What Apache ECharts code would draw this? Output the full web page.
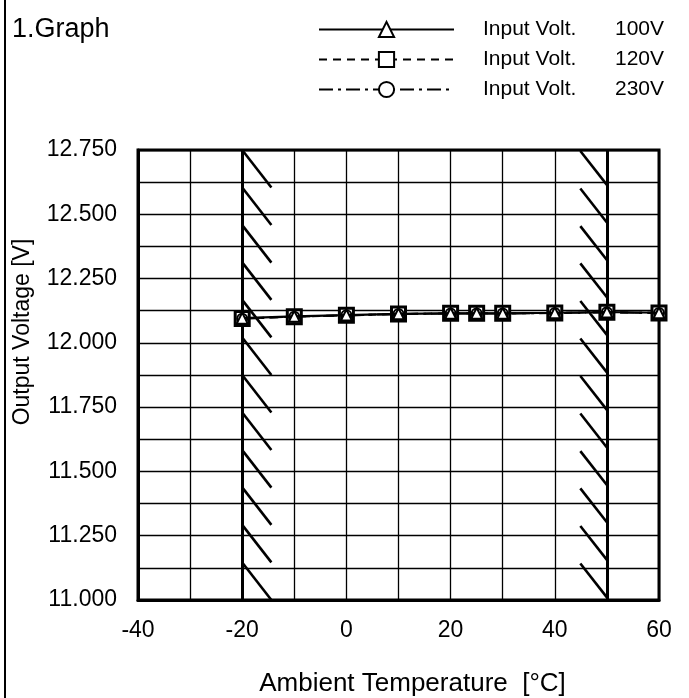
<!DOCTYPE html>
<html>
<head>
<meta charset="utf-8">
<script src="https://cdn.jsdelivr.net/npm/echarts@6/dist/echarts.min.js"></script>
<style>html,body{margin:0;padding:0;background:#fff;}#chart{width:689px;height:698px;}</style>
</head>
<body>
<div id="chart"></div>
<script>
// ---- data ----
const temps = [-20, -10, 0, 10, 20, 25, 30, 40, 50, 60];
const volt100 = [12.096, 12.103, 12.108, 12.113, 12.115, 12.115, 12.115, 12.117, 12.120, 12.117];
const volt120 = [12.095, 12.102, 12.107, 12.112, 12.115, 12.115, 12.115, 12.116, 12.119, 12.116];
const volt230 = [12.094, 12.102, 12.107, 12.112, 12.114, 12.114, 12.114, 12.116, 12.119, 12.116];
const seriesNames = ['Input Volt.   100V', 'Input Volt.   120V', 'Input Volt.   230V'];
const legendValues = ['100V', '120V', '230V'];
const xTickLabels = ['-40', '-20', '0', '20', '40', '60'];
const yTickLabels = ['11.000', '11.250', '11.500', '11.750', '12.000', '12.250', '12.500', '12.750'];
const limitTemps = [-20, 50];
const hatchStartsY = [12.750, 12.604, 12.458, 12.313, 12.167, 12.021, 11.875, 11.729, 11.583, 11.438, 11.292, 11.146];

const FONT = 'Liberation Sans';
const HATCH_DX = 5.6, HATCH_DY = 0.1458;

const hatchLines = [];
limitTemps.forEach(t => hatchLines.push({coords: [[t, 11.0], [t, 12.75]], lineStyle: {width: 3}}));
hatchStartsY.forEach(y => {
  hatchLines.push({coords: [[limitTemps[0], y], [limitTemps[0] + HATCH_DX, Math.max(11.0, y - HATCH_DY)]]});
  hatchLines.push({coords: [[limitTemps[1] - HATCH_DX + 0.5, y - 0.004], [limitTemps[1], Math.max(11.0, y - HATCH_DY + 0.01)]]});
});

const chart = echarts.init(document.getElementById('chart'), null, {renderer: 'canvas'});
const pair = arr => temps.map((t, i) => [t, arr[i]]);

chart.setOption({
  animation: false,
  backgroundColor: '#fff',
  textStyle: {fontFamily: FONT, color: '#000'},
  title: {
    text: '1.Graph', left: 7, top: 11,
    textStyle: {fontFamily: FONT, fontSize: 27, fontWeight: 'normal', color: '#000'}
  },
  graphic: [{
    type: 'line', shape: {x1: 5, y1: 0, x2: 5, y2: 698},
    style: {stroke: '#000', lineWidth: 2}
  }],
  legend: {
    orient: 'vertical', left: 313, top: 14,
    itemWidth: 135, itemHeight: 19, itemGap: 9,
    data: seriesNames,
    formatter: name => {
      const i = seriesNames.indexOf(name);
      return '{p|}{a|Input Volt.}{b|' + legendValues[i] + '}';
    },
    textStyle: {
      fontFamily: FONT, fontSize: 21, color: '#000',
      rich: {
        p: {width: 24, fontSize: 21, fontFamily: FONT, lineHeight: 22},
        a: {width: 132, fontSize: 21, fontFamily: FONT, color: '#000', lineHeight: 22},
        b: {fontSize: 21, fontFamily: FONT, color: '#000', lineHeight: 22}
      }
    }
  },
  grid: {left: 138, right: 30, top: 150, bottom: 98, show: true, borderColor: '#000', borderWidth: 3,
         containLabel: false, outerBoundsMode: 'none'},
  xAxis: {
    type: 'value', min: -40, max: 60, interval: 10,
    name: 'Ambient Temperature  [°C]', nameLocation: 'middle', nameGap: 71,
    nameTextStyle: {fontFamily: FONT, fontSize: 26, color: '#000', padding: [0, 0, 0, 28]},
    axisLine: {show: true, onZero: false, lineStyle: {color: '#000', width: 3}},
    axisTick: {show: false},
    axisLabel: {
      fontFamily: FONT, fontSize: 23, color: '#000', margin: 19,
      formatter: v => { const s = String(Math.round(v)); return xTickLabels.indexOf(s) >= 0 ? s : ''; }
    },
    splitLine: {show: true, lineStyle: {color: '#000', width: 1.3}}
  },
  yAxis: {
    type: 'value', min: 11.0, max: 12.75, interval: 0.125,
    name: 'Output Voltage [V]', nameLocation: 'middle', nameGap: 104, nameRotate: 90,
    nameTextStyle: {fontFamily: FONT, fontSize: 23, color: '#000', padding: [0, 0, 0, 86]},
    axisLine: {show: true, onZero: false, lineStyle: {color: '#000', width: 3}},
    axisTick: {show: false},
    axisLabel: {
      fontFamily: FONT, fontSize: 23, color: '#000', margin: 21,
      formatter: v => { const s = v.toFixed(3); return yTickLabels.indexOf(s) >= 0 ? s : ''; }
    },
    splitLine: {show: true, lineStyle: {color: '#000', width: 1.3}}
  },
  series: [
    {
      name: 'hatch', type: 'lines', coordinateSystem: 'cartesian2d', polyline: false,
      silent: true, z: 3,
      lineStyle: {color: '#000', width: 2.6, opacity: 1},
      data: hatchLines
    },
    {
      name: seriesNames[1], type: 'line', data: pair(volt120), z: 4,
      symbol: 'rect', symbolSize: 14,
      lineStyle: {color: '#000', width: 2, type: [8, 6]},
      itemStyle: {color: '#fff', borderColor: '#000', borderWidth: 3}
    },
    {
      name: seriesNames[2], type: 'line', data: pair(volt230), z: 5,
      symbol: 'circle', symbolSize: 10,
      lineStyle: {color: '#000', width: 2, type: [14, 5, 3, 5]},
      itemStyle: {color: '#fff', borderColor: '#000', borderWidth: 2}
    },
    {
      name: seriesNames[0], type: 'line', data: pair(volt100), z: 6,
      symbol: 'triangle', symbolSize: 11,
      lineStyle: {color: '#000', width: 2.2, type: 'solid'},
      itemStyle: {color: '#fff', borderColor: '#000', borderWidth: 2}
    }
  ]
});
</script>
</body>
</html>
